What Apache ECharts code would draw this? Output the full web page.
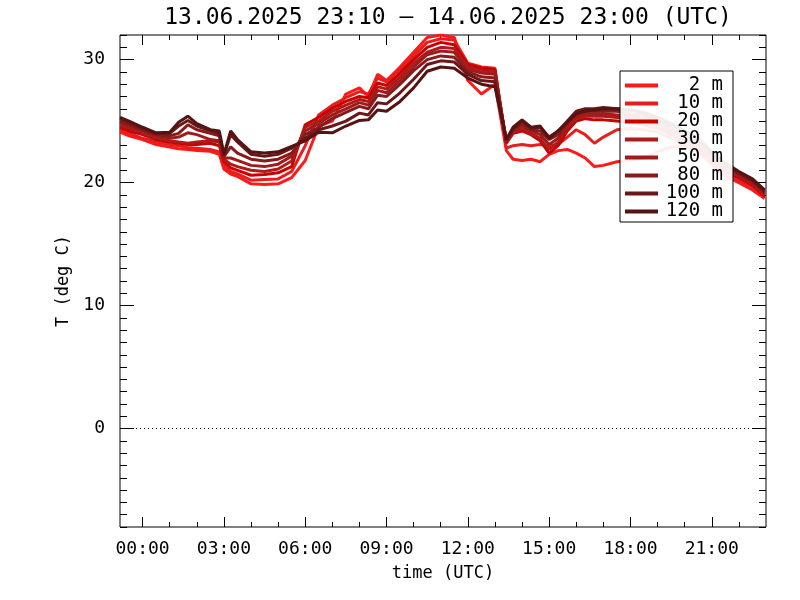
<!DOCTYPE html>
<html>
<head>
<meta charset="utf-8">
<script src="https://cdn.jsdelivr.net/npm/echarts@6/dist/echarts.min.js"></script>
<style>html,body{margin:0;padding:0;background:#fff}#c{width:800px;height:600px}</style>
</head>
<body>
<div id="c"></div>
<script>
// time in hours relative to 14.06.2025 00:00 UTC
const hours = [-0.83,-0.5,0,0.5,1.0,1.33,1.67,2.0,2.5,2.83,3.0,3.25,3.5,4.0,4.5,5.0,5.5,6.0,6.5,7.0,7.5,8.0,8.33,8.67,9.0,9.5,10.0,10.5,11.0,11.5,12.0,12.5,13.0,13.42,13.67,14.0,14.33,14.67,15.0,15.33,15.67,16.0,16.33,16.67,17.0,17.5,18.0,18.5,19.0,19.5,20.0,20.5,21.0,21.5,22.0,22.5,22.95];

const t2m   = [24.1,23.8,23.5,23.1,22.9,22.75,22.7,22.6,22.55,22.3,21.1,20.7,20.5,19.9,19.85,19.9,20.4,21.8,24.6,25.0,27.2,27.7,27.0,28.8,28.3,29.4,30.6,31.8,32.0,31.8,28.3,27.2,28.0,22.6,21.9,21.8,21.9,21.7,22.3,22.6,22.7,22.4,22.0,21.3,21.4,21.7,21.8,22.0,22.5,22.9,23.0,22.5,21.5,20.5,20.0,19.4,18.7];
const t10m  = [24.3,24.0,23.6,23.3,23.1,23.0,22.85,22.8,22.7,22.5,21.4,20.9,20.7,20.2,20.25,20.3,20.9,23.0,25.5,26.3,26.9,27.4,27.2,28.5,28.2,29.2,30.3,31.4,31.7,31.6,29.7,29.4,29.3,22.8,23.0,23.1,23.0,23.1,23.0,23.1,23.7,24.3,23.9,23.2,23.7,24.3,24.4,24.3,24.1,23.6,23.2,22.7,21.7,20.7,20.2,19.6,18.8];
const t20m  = [24.5,24.2,23.9,23.5,23.3,23.2,23.1,23.1,23.2,23.0,21.7,21.2,21.0,20.6,20.65,20.8,21.3,24.7,25.3,26.05,26.6,27.0,26.9,28.1,27.9,28.9,30.0,31.0,31.4,31.2,29.6,29.3,29.2,23.2,24.0,24.2,23.9,23.4,22.4,23.0,24.2,25.0,25.2,25.1,25.1,25.0,24.9,24.7,24.4,23.9,23.4,22.9,21.9,20.9,20.4,19.8,18.9];
const t30m  = [24.7,24.4,24.0,23.6,23.4,23.3,23.2,23.3,23.4,23.3,21.9,21.5,21.3,21.0,20.9,21.1,21.75,24.5,25.0,25.8,26.3,26.75,26.6,27.8,27.6,28.6,29.7,30.6,31.0,30.9,29.4,29.1,29.0,23.3,24.1,24.4,24.0,23.6,22.7,23.3,24.5,25.2,25.4,25.4,25.4,25.3,25.2,25.0,24.6,24.1,23.6,23.0,22.0,21.1,20.5,19.9,19.0];
const t50m  = [24.9,24.6,24.2,23.8,23.6,23.7,24.05,23.9,23.5,23.4,22.0,22.0,21.8,21.4,21.3,21.5,22.15,24.2,24.8,25.5,26.0,26.5,26.3,27.5,27.3,28.3,29.4,30.4,30.7,30.6,29.2,28.9,28.8,23.4,24.2,24.6,24.2,23.9,23.1,23.6,24.7,25.4,25.6,25.6,25.6,25.5,25.4,25.2,24.8,24.3,23.8,23.2,22.2,21.3,20.6,20.0,19.1];
const t80m  = [25.0,24.7,24.3,23.9,23.8,24.0,24.7,24.3,24.0,23.8,22.1,22.9,22.4,21.9,21.75,21.9,22.4,23.9,24.5,25.2,25.7,26.2,26.0,27.1,27.0,28.0,29.1,30.0,30.3,30.2,29.0,28.6,28.5,23.4,24.3,24.8,24.3,24.2,23.5,23.9,24.9,25.6,25.8,25.8,25.8,25.8,25.6,25.4,25.0,24.5,24.0,23.3,22.3,21.4,20.7,20.1,19.2];
const t100m = [25.2,24.9,24.4,24.0,24.0,24.6,25.05,24.6,24.2,24.0,22.2,23.9,23.3,22.3,22.15,22.3,22.8,23.6,24.3,24.6,25.0,25.65,25.5,26.5,26.4,27.3,28.4,29.6,29.9,29.8,28.8,28.3,28.2,23.5,24.4,25.0,24.4,24.5,23.7,24.2,25.0,25.8,26.0,26.0,26.1,26.0,25.9,25.6,25.2,24.7,24.1,23.5,22.4,21.5,20.8,20.2,19.3];
const t120m = [25.3,25.0,24.5,24.05,24.1,24.9,25.4,24.8,24.3,24.2,22.3,24.2,23.5,22.5,22.4,22.5,22.95,23.4,24.1,24.05,24.6,25.05,25.1,25.9,25.8,26.6,27.7,29.05,29.4,29.3,28.5,28.0,27.8,23.5,24.5,25.1,24.5,24.6,23.6,24.2,24.9,25.6,25.8,25.9,26.0,26.0,25.9,25.7,25.3,24.8,24.2,23.6,22.5,21.6,20.9,20.3,19.4];

const seriesNames = ['2 m','10 m','20 m','30 m','50 m','80 m','100 m','120 m'];
const seriesValues = [t2m,t10m,t20m,t30m,t50m,t80m,t100m,t120m];
const seriesColors = ['#ff1a1a','#e61e1e','#c80000','#b01a1a','#a01c1c','#871a1a','#6b1717','#551414'];

const xMajorTicks = [0,3,6,9,12,15,18,21];
const xTickLabels = ['00:00','03:00','06:00','09:00','12:00','15:00','18:00','21:00'];
const xMinorTicks = [0,1,2,3,4,5,6,7,8,9,10,11,12,13,14,15,16,17,18,19,20,21,22];
const yMajorTicks = [0,10,20,30];
const yTickLabels = ['0','10','20','30'];
const yMinorTicks = [-8,-7,-6,-5,-4,-3,-2,-1,0,1,2,3,4,5,6,7,8,9,10,11,12,13,14,15,16,17,18,19,20,21,22,23,24,25,26,27,28,29,30,31,32];

const titleText = '13.06.2025 23:10 \u2013 14.06.2025 23:00 (UTC)';
const FONT = 'DejaVu Sans Mono';
const XMIN = -0.8333, XMAX = 23, YMIN = -8, YMAX = 32;

function xAxisDef(pos, ticks, len, labels) {
  return {
    type: 'value', position: pos, min: XMIN, max: XMAX,
    axisLine: { show: false, onZero: false },
    splitLine: { show: false },
    axisTick: { show: true, inside: true, length: len, customValues: ticks, lineStyle: { color: '#000', width: 1 } },
    axisLabel: labels ? {
      show: true, customValues: ticks, margin: 13, color: '#000', fontFamily: FONT, fontSize: 18,
      formatter: function (v) { const i = xMajorTicks.indexOf(Math.round(v)); return i >= 0 ? xTickLabels[i] : ''; }
    } : { show: false },
    name: labels ? 'time (UTC)' : '', nameLocation: 'middle', nameGap: 38,
    nameTextStyle: { color: '#000', fontFamily: FONT, fontSize: 17 }
  };
}
function yAxisDef(pos, ticks, len, labels) {
  return {
    type: 'value', position: pos, min: YMIN, max: YMAX,
    axisLine: { show: false, onZero: false },
    splitLine: { show: false },
    axisTick: { show: true, inside: true, length: len, customValues: ticks, lineStyle: { color: '#000', width: 1 } },
    axisLabel: labels ? {
      show: true, customValues: ticks, margin: 15, color: '#000', fontFamily: FONT, fontSize: 18,
      formatter: function (v) { const i = yMajorTicks.indexOf(Math.round(v)); return i >= 0 ? yTickLabels[i] : ''; }
    } : { show: false },
    name: labels ? 'T (deg C)' : '', nameLocation: 'middle', nameGap: 36,
    nameTextStyle: { color: '#000', fontFamily: FONT, fontSize: 17 }
  };
}

const series = seriesNames.map(function (name, k) {
  const s = {
    name: name, type: 'line', xAxisIndex: 0, yAxisIndex: 0,
    data: hours.map(function (h, i) { return [h, seriesValues[k][i]]; }),
    showSymbol: false, symbol: 'none', color: seriesColors[k],
    lineStyle: { width: 3, color: seriesColors[k] },
    clip: true, z: 2
  };
  if (k === 0) {
    s.markLine = {
      silent: true, symbol: 'none', label: { show: false },
      lineStyle: { color: '#000', width: 1, type: [1, 3] },
      data: [{ yAxis: 0 }]
    };
  }
  return s;
});

const chart = echarts.init(document.getElementById('c'), null, { renderer: 'canvas' });
chart.setOption({
  animation: false,
  backgroundColor: '#fff',
  title: {
    text: titleText, left: 443, top: 2, textAlign: 'center',
    textStyle: { color: '#000', fontFamily: FONT, fontSize: 23, fontWeight: 'normal' }
  },
  grid: { left: 120, right: 34, top: 35, bottom: 73, show: true, borderColor: '#000', borderWidth: 1, backgroundColor: 'transparent' },
  xAxis: [
    xAxisDef('bottom', xMajorTicks, 10, true),
    xAxisDef('bottom', xMinorTicks, 5, false),
    xAxisDef('top', xMajorTicks, 10, false),
    xAxisDef('top', xMinorTicks, 5, false)
  ],
  yAxis: [
    yAxisDef('left', yMajorTicks, 14, true),
    yAxisDef('left', yMinorTicks, 7, false),
    yAxisDef('right', yMajorTicks, 14, false),
    yAxisDef('right', yMinorTicks, 7, false)
  ],
  legend: {
    data: seriesNames, orient: 'vertical', left: 620, top: 71, z: 20,
    padding: [5, 10, 1, 5], itemWidth: 33, itemHeight: 4, itemGap: -1, itemTextGap: 5,
    icon: 'rect', selectedMode: false,
    backgroundColor: 'rgba(255,255,255,0.92)', borderColor: '#000', borderWidth: 1,
    formatter: function (n) { return '{a|' + n + '}'; },
    textStyle: {
      color: '#000', fontFamily: FONT, fontSize: 19, lineHeight: 17,
      rich: { a: { width: 60, align: 'right', color: '#000', fontFamily: FONT, fontSize: 19, lineHeight: 17 } }
    }
  },
  series: series
});
</script>
</body>
</html>
